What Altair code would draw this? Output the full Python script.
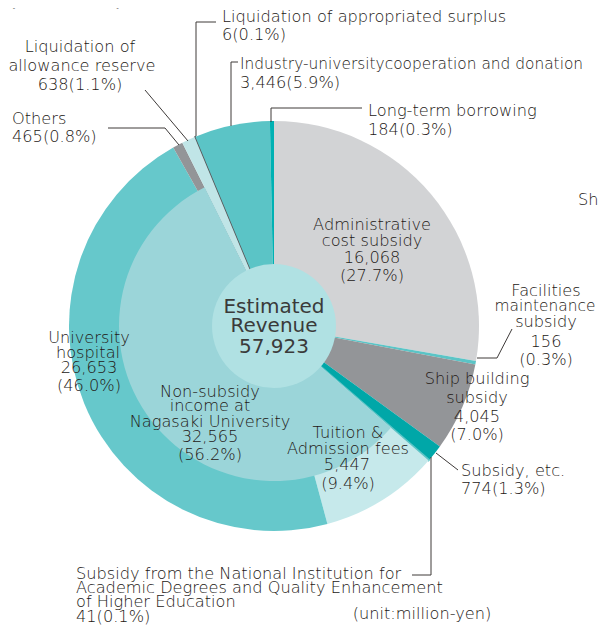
import altair as alt
import pandas as pd

# ---------------- data ----------------
items = [
    "Administrative cost subsidy",
    "Facilities maintenance subsidy",
    "Ship building subsidy",
    "Subsidy, etc.",
    "Subsidy from NIAD-QE",
    "Tuition & Admission fees",
    "University hospital",
    "Others",
    "Liquidation of allowance reserve",
    "Liquidation of appropriated surplus",
    "Industry-university cooperation and donation",
    "Long-term borrowing",
]
values = [16068, 156, 4045, 774, 41, 5447, 26653, 465, 638, 6, 3446, 184]
groups = ["subsidy"] * 5 + ["non-subsidy"] * 3 + ["other"] * 4
group_names = ["subsidy", "non-subsidy", "other"]

colors = ["#d2d3d5", "#5bc4c6", "#939598", "#00a7a8", "#5bc4c6", "#c6e9eb",
          "#66c8cb", "#939598", "#c0e5e7", "#58595b", "#5bc4c6", "#00b1b3"]

total_label = ["Estimated", "Revenue", "57,923"]

df = pd.DataFrame({"item": items, "value": values, "group": groups,
                   "idx": list(range(len(items)))})
gdf = df.groupby("group", sort=False, as_index=False)["value"].sum()
gdf["gidx"] = [group_names.index(g) for g in gdf["group"]]
tdf = pd.DataFrame({"value": [sum(values)]})

# ---------------- layout (page px) ----------------
OFF = 8
CX, CY = 274 - OFF, 326 - OFF
R_OUT, R_MID, R_CEN = 205, 155, 62

center_lines = [  # text, x, y
    ("Liquidation of", 80, 47), ("allowance reserve", 82, 66), ("638(1.1%)", 80, 85),
    ("Administrative", 372, 225), ("cost subsidy", 372, 241), ("16,068", 372, 258), ("(27.7%)", 372, 276),
    ("Facilities", 546, 291), ("subsidy", 546, 322), ("156", 546, 342), ("(0.3%)", 546, 360),
    ("Ship building", 477, 379), ("subsidy", 477, 398), ("4,045", 477, 417), ("(7.0%)", 477, 435),
    ("University", 89, 338), ("hospital", 88, 353), ("26,653", 89, 368), ("(46.0%)", 89, 386),
    ("Non-subsidy", 210, 392), ("income at", 210, 406), ("Nagasaki University", 210, 422), ("32,565", 210, 437), ("(56.2%)", 210, 455),
    ("Tuition &", 348, 433), ("Admission fees", 348, 449), ("5,447", 347, 465), ("(9.4%)", 348, 484),
    ("(unit:million-yen)", 422, 614),
]
center_edge_lines = [("maintenance", 545, 306)]
left_lines = [
    ("Others", 12, 119), ("465(0.8%)", 12, 137),
    ("Liquidation of appropriated surplus", 222, 17), ("6(0.1%)", 222, 35),
    ("3,446(5.9%)", 240, 83),
    ("Long-term borrowing", 368, 111), ("184(0.3%)", 368, 130),
    ("Subsidy, etc.", 461, 471), ("774(1.3%)", 461, 489),
    ("Subsidy from the National Institution for", 76, 574),
    ("Academic Degrees and Quality Enhancement", 76, 588),
    ("of Higher Education", 76, 602), ("41(0.1%)", 76, 617),
    ("Ship building", 578, 200),
]
left_edge_lines = [("Industry-universitycooperation and donation", 240, 64)]
title_lines = [("(Revenue)", 8, 6), ("(", 596, 6)]
center_y = [307, 326, 347]

segments = [  # x, y, x2, y2
    (196, 136, 196, 22), (196, 22, 216, 22),
    (231, 126, 231, 62), (231, 62, 238, 62),
    (271, 122, 271, 108), (271, 108, 362, 108),
    (108, 128, 165, 128), (165, 128, 179, 145),
    (145, 90, 188, 141),
    (477, 358, 497, 358), (497, 358, 512, 329),
    (436, 453, 458, 470),
    (431, 457, 431, 575), (431, 575, 412, 575),
]


def to_df(rows):
    return pd.DataFrame([{"text": t, "px": x - OFF, "py": y - OFF} for t, x, y in rows])


seg_df = pd.DataFrame([{"x": a - OFF, "y": b - OFF, "x2": c - OFF, "y2": d - OFF}
                       for a, b, c, d in segments])
cen_df = pd.DataFrame({"text": total_label, "px": [CX] * 3, "py": [y - OFF for y in center_y]})

FONT = "DejaVu Sans"
TXT = "#231815"

# ---------------- marks ----------------
outer = alt.Chart(df).mark_arc(outerRadius=R_OUT, innerRadius=0, strokeWidth=1.6).encode(
    theta=alt.Theta("value:Q", stack=True),
    order=alt.Order("idx:Q"),
    color=alt.Color("item:N", scale=alt.Scale(domain=items, range=colors), legend=None),
    stroke=alt.when(alt.datum.item == "Liquidation of appropriated surplus").then(alt.value("#58595b"))
    .when(alt.datum.item == "Subsidy from NIAD-QE").then(alt.value("#5bc4c6"))
    .otherwise(alt.value("transparent")),
    x=alt.value(CX), y=alt.value(CY),
)

inner = alt.Chart(gdf).mark_arc(outerRadius=R_MID, innerRadius=0).encode(
    theta=alt.Theta("value:Q", stack=True),
    order=alt.Order("gidx:Q"),
    color=alt.condition(alt.datum.group == "non-subsidy", alt.value("#9bd5d9"), alt.value("transparent")),
    x=alt.value(CX), y=alt.value(CY),
)

center = alt.Chart(tdf).mark_arc(outerRadius=R_CEN, innerRadius=0, color="#b0e1e3").encode(
    theta=alt.Theta("value:Q", stack=True),
    x=alt.value(CX), y=alt.value(CY),
)

rules = alt.Chart(seg_df).mark_rule(color="#3e3a39", strokeWidth=1).encode(
    x=alt.X("x:Q", scale=None, axis=None), y=alt.Y("y:Q", scale=None, axis=None),
    x2="x2:Q", y2="y2:Q",
)


def text_layer(d, align, size, baseline="middle", weight=300, color=TXT):
    return alt.Chart(d).mark_text(align=align, baseline=baseline, font=FONT, fontSize=size,
                                  fontWeight=weight, color=color).encode(
        x=alt.X("px:Q", scale=None, axis=None), y=alt.Y("py:Q", scale=None, axis=None),
        text="text:N",
    )


chart = alt.layer(
    outer, inner, center, rules,
    text_layer(to_df(center_lines), "center", 16.2),
    text_layer(to_df(center_edge_lines), "center", 15.4),
    text_layer(to_df(left_lines), "left", 16.2),
    text_layer(to_df(left_edge_lines), "left", 15.4),
    text_layer(cen_df, "center", 20, weight=400, color="#3a3a3a"),
    text_layer(to_df(title_lines), "left", 22.5, "alphabetic", 400, "#333333"),
).properties(
    width=590, height=617, padding=0, autosize="none"
).configure_view(stroke=None)

chart.save("out.html", embed_options={"renderer": "svg", "actions": False})
